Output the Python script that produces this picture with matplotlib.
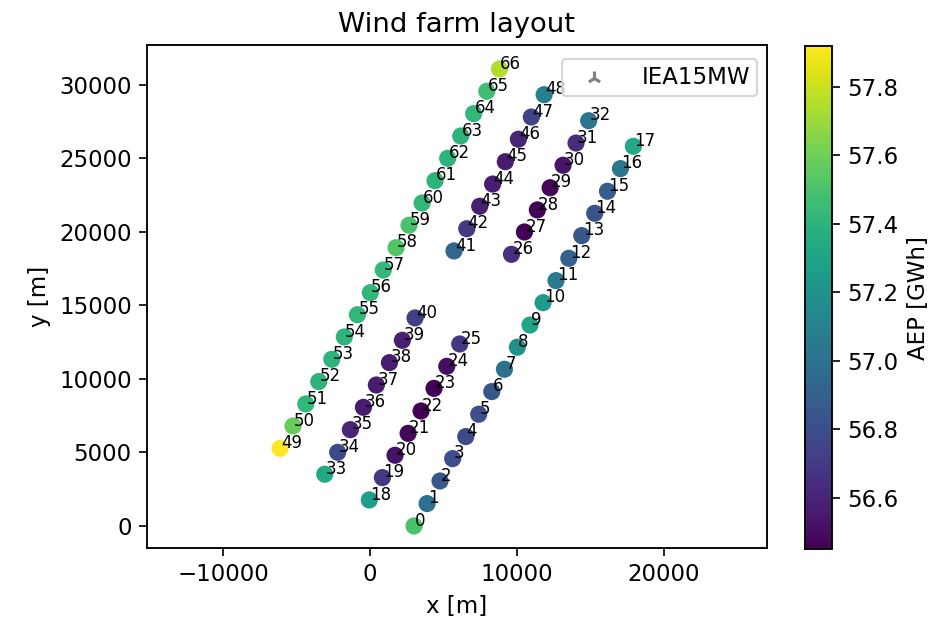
import matplotlib
matplotlib.use('Agg')
import matplotlib.pyplot as plt

plt.rcParams['font.size'] = 11
plt.rcParams['axes.linewidth'] = 0.9
plt.rcParams['xtick.major.size'] = 3.8
plt.rcParams['ytick.major.size'] = 3.8

# turbine positions [m]
wt_x = [2990, 3880, 4760, 5620, 6510, 7390, 8280, 9140, 10020, 10880, 11770, 12650, 13520, 14400, 15280, 16150, 17030, 17910,
        -50, 840, 1700, 2590, 3470, 4350, 5220, 6100,
        9620, 10500, 11380, 12250, 13130, 14010, 14870,
        -3080, -2200, -1340, -450, 430, 1320, 2200, 3060,
        5710, 6580, 7460, 8340, 9200, 10090, 10970, 11840,
        -6120, -5240, -4370, -3490, -2600, -1750, -860, 20, 900, 1770, 2650, 3540, 4420, 5280, 6170, 7050, 7940, 8800]
wt_y = [0, 1520, 3060, 4580, 6080, 7600, 9140, 10660, 12160, 13670, 15190, 16690, 18210, 19750, 21270, 22770, 24310, 25830,
        1770, 3290, 4810, 6300, 7820, 9360, 10860, 12380,
        18480, 20000, 21500, 23010, 24540, 26050, 27570,
        3520, 5010, 6550, 8070, 9590, 11110, 12630, 14150,
        18710, 20220, 21750, 23260, 24780, 26310, 27820, 29340,
        5280, 6800, 8300, 9820, 11340, 12860, 14370, 15870, 17410, 18930, 20460, 21970, 23490, 25010, 26530, 28050, 29570, 31090]
aep = [57.50, 57.00, 56.85, 56.80, 56.78, 56.80, 56.85, 57.00, 57.20, 57.30, 57.25, 57.05, 56.90, 56.85, 56.82, 56.88, 57.03, 57.33,
       57.27, 56.68, 56.52, 56.47, 56.46, 56.46, 56.50, 56.68,
       56.65, 56.46, 56.46, 56.47, 56.53, 56.63, 57.02,
       57.33, 56.78, 56.60, 56.57, 56.56, 56.56, 56.58, 56.72,
       56.93, 56.68, 56.58, 56.56, 56.57, 56.60, 56.75, 57.08,
       57.92, 57.58, 57.42, 57.40, 57.40, 57.40, 57.42, 57.42, 57.43, 57.52, 57.50, 57.42, 57.40, 57.40, 57.40, 57.42, 57.47, 57.75]

fig = plt.figure(figsize=(937 / 150, 619 / 150), dpi=150)
ax = fig.add_axes([147 / 937, 71 / 619, 620 / 937, 503 / 619])
cax = fig.add_axes([805 / 937, 70 / 619, 27 / 937, 503 / 619])

sc = ax.scatter(wt_x, wt_y, c=aep, s=68, cmap='viridis', vmin=56.45, vmax=57.92, edgecolors='none', zorder=2)
for i in range(len(wt_x)):
    ax.annotate(str(i), (wt_x[i] + 60, wt_y[i] + 20), fontsize=8, zorder=3)

ax.scatter([], [], marker='2', s=45, color='gray', label='IEA15MW')

cb = fig.colorbar(sc, cax=cax)
cb.set_ticks([56.6, 56.8, 57.0, 57.2, 57.4, 57.6, 57.8])
cb.set_label('AEP [GWh]')

ax.set_xlim(-15170, 27000)
ax.set_ylim(-1500, 32720)
ax.set_xticks([-10000, 0, 10000, 20000])
ax.set_yticks([0, 5000, 10000, 15000, 20000, 25000, 30000])
ax.set_xlabel('x [m]')
ax.set_ylabel('y [m]')
ax.set_title('Wind farm layout', fontsize=13.2)
ax.legend(loc='upper right', handlelength=2.2, handletextpad=1.0, borderpad=0.3, bbox_to_anchor=(1.003, 0.994))

plt.savefig('out.png', dpi=150)
